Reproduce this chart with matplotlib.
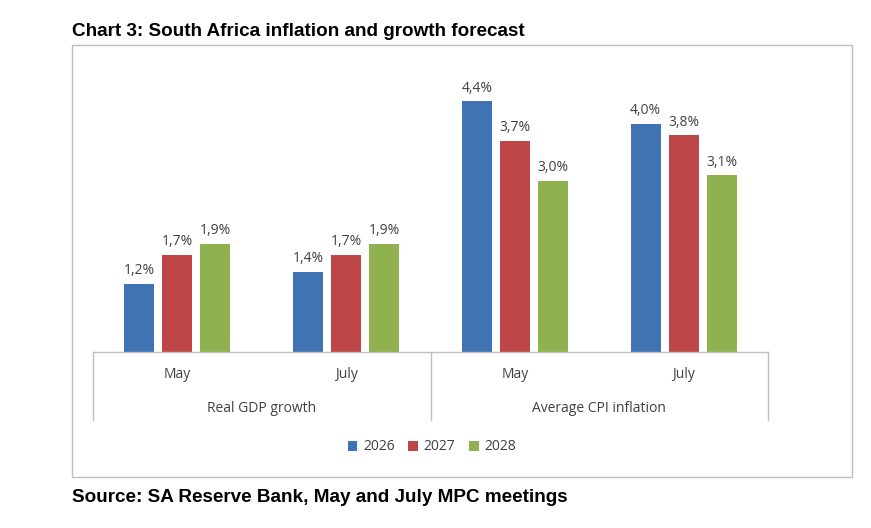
import matplotlib
matplotlib.use("Agg")
import matplotlib.pyplot as plt
from matplotlib.patches import Rectangle
import numpy as np

subcats = ["May", "July", "May", "July"]
groups = ["Real GDP growth", "Average CPI inflation"]
series = ["2026", "2027", "2028"]
v2026 = [1.2, 1.4, 4.4, 4.0]
v2027 = [1.7, 1.7, 3.7, 3.8]
v2028 = [1.9, 1.9, 3.0, 3.1]
colors = ["#4073B4", "#BE4646", "#8FB14F"]

W, H = 871, 528
fig = plt.figure(figsize=(W/100, H/100), dpi=100)
fig.text(72/W, 1-32/H, "Chart 3: South Africa inflation and growth forecast", fontsize=13.6,
         fontweight="bold", family="Liberation Sans", va="center")
fig.text(72/W, 1-497/H, "Source: SA Reserve Bank, May and July MPC meetings", fontsize=13.6,
         fontweight="bold", family="Liberation Sans", va="center")
fig.add_artist(Rectangle((72/W, 1-477/H), (852-72)/W, (477-45)/H, transform=fig.transFigure,
                         fill=False, edgecolor="#BFBFBF", lw=1))

ax = fig.add_axes([93/W, 1-352/H, (768-93)/W, 292/H])
ax.set_xlim(-0.5, 3.5)
ax.set_ylim(0, 292/57)
ax.axis("off")
x = np.arange(4)
bw, step = 0.178, 0.225
for i, (vals, c, name) in enumerate(zip([v2026, v2027, v2028], colors, series)):
    xs = x + (i-1)*step
    ax.bar(xs, vals, bw, color=c, label=name)
    for xx, v in zip(xs, vals):
        ax.text(xx, v+0.1, f"{v:.1f}%".replace(".", ","), ha="center", va="bottom",
                fontsize=10, color="#404040", family="Open Sans")

lc = "#BFBFBF"
ax.plot([-0.5, 3.5], [0, 0], color=lc, lw=1, clip_on=False)
tr = ax.get_xaxis_transform()
u = 1/292
for xv in [-0.5, 1.5, 3.5]:
    ax.plot([xv, xv], [0, -68*u], color=lc, lw=1, transform=tr, clip_on=False)
for i, s in enumerate(subcats):
    ax.text(i, -23*u, s, transform=tr, ha="center", va="center", fontsize=10,
            color="#404040", family="Open Sans")
for j, g in enumerate(groups):
    ax.text(0.5+2*j, -57*u, g, transform=tr, ha="center", va="center", fontsize=10,
            color="#404040", family="Open Sans")

leg = fig.legend(loc="center", bbox_to_anchor=(432/W, 1-447/H), ncol=3, frameon=False,
                 handlelength=0.7, handleheight=0.7, columnspacing=1.0, handletextpad=0.4,
                 prop={"family": "Open Sans", "size": 10})
for t in leg.get_texts():
    t.set_color("#404040")
fig.savefig("out.png", dpi=100)
